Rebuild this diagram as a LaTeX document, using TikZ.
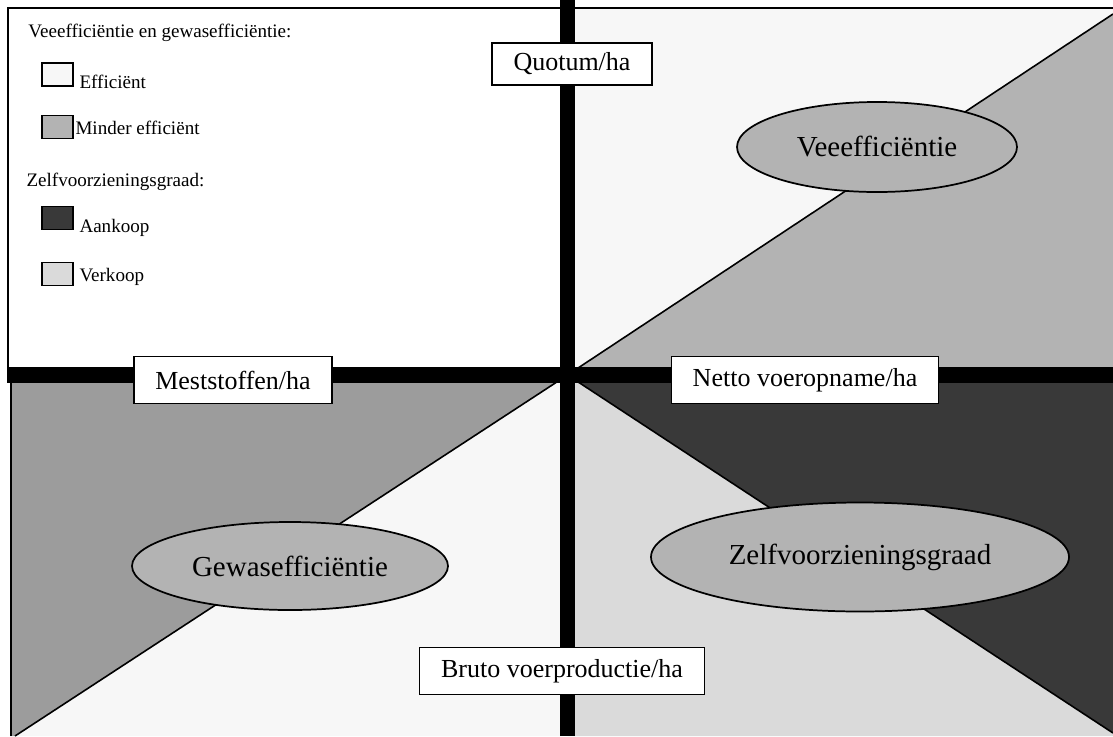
\documentclass[tikz,border=0pt]{standalone}
\usepackage{fontspec}
\setmainfont{Liberation Serif}
\usetikzlibrary{shapes.geometric}

\definecolor{fillLight}{RGB}{247,247,247}
\definecolor{fillMid}{RGB}{179,179,179}
\definecolor{fillField}{RGB}{156,156,156}
\definecolor{fillBuy}{RGB}{57,57,57}
\definecolor{fillSell}{RGB}{218,218,218}

\tikzset{every picture/.style={line width=0.75pt}}
\tikzset{
  axislabel/.style={draw, fill=white, line width=1.1pt, inner xsep=16pt, minimum height=35pt, font=\fontsize{19.5}{23}\selectfont},
  effellipse/.style={ellipse, draw, fill=fillMid, line width=1.3pt, inner sep=0pt, font=\fontsize{21.75}{26}\selectfont},
  legendbox/.style={draw, line width=1.1pt, minimum width=23pt, minimum height=17pt, inner sep=0pt},
  legendtext/.style={anchor=west, inner sep=0pt, font=\fontsize{14.3}{17}\selectfont}
}

\begin{document}
\begin{tikzpicture}[x=0.75pt,y=0.75pt,yscale=-1,xscale=1]
\useasboundingbox (0,0) rectangle (1113,736);

\coordinate (mid) at (567.5,375);
\coordinate (trEnd) at (1113,14);
\coordinate (brEnd) at (1113,733);
\coordinate (blEnd) at (15,736);

%Shape: quadrant top right
\fill [fillLight] (mid) -- (567.5,8) -- (1113,8) -- (trEnd) -- cycle ;
\fill [fillMid] (mid) -- (trEnd) -- (1113,375) -- cycle ;
%Shape: quadrant bottom left
\fill [fillField] (mid) -- (10,375) -- (10,736) -- (blEnd) -- cycle ;
\fill [fillLight] (mid) -- (blEnd) -- (567.5,736) -- cycle ;
%Shape: quadrant bottom right
\fill [fillBuy] (mid) -- (1113,375) -- (brEnd) -- cycle ;
\fill [fillSell] (mid) -- (brEnd) -- (1113,736) -- (567.5,736) -- cycle ;

%Straight Lines: diagonals
\draw [line width=1.2pt] (mid) -- (trEnd) ;
\draw [line width=1.2pt] (mid) -- (brEnd) ;
\draw [line width=1.2pt] (mid) -- (blEnd) ;

%Straight Lines: frame
\draw [line width=1.5pt] (8,375) -- (8,8) -- (1113,8) ;
\draw [line width=1.5pt] (10.5,375) -- (10.5,736) ;

%Shape: axes
\fill [black] (7,367) rectangle (1113,383) ;
\fill [black] (560,0) rectangle (575,736) ;

%Shape: Ellipses
\node [effellipse, minimum width=210pt, minimum height=67.5pt] (vee) at (877,147) {Veeefficiëntie};
\node [effellipse, minimum width=237pt, minimum height=66pt] (gewas) at (290,566) {Gewasefficiëntie};
\node [effellipse, minimum width=313.5pt, minimum height=81.75pt] (zelf) at (860,557) {\raisebox{4pt}{Zelfvoorzieningsgraad}};

% Text Node: axis labels
\node [axislabel, minimum height=31.5pt] (quotum) at (572,64) {Quotum/ha};
\node [axislabel] (mest) at (233,380) {Meststoffen/ha};
\node [axislabel] (netto) at (805,380) {Netto voeropname/ha};
\node [axislabel] (bruto) at (562,671) {Bruto voerproductie/ha};

% Text Node: legend
\node [legendtext] (legTitle) at (28,33) {Veeefficiëntie en gewasefficiëntie:};
\node [legendbox, fill=fillLight] (boxEff) at (57.5,74.5) {};
\node [legendtext] (txtEff) at (79,82) {Efficiënt};
\node [legendbox, fill=fillMid] (boxMinder) at (57.5,127) {};
\node [legendtext] (txtMinder) at (75,128) {Minder efficiënt};
\node [legendtext] (legZelf) at (26,182) {Zelfvoorzieningsgraad:};
\node [legendbox, fill=fillBuy] (boxBuy) at (57.5,218) {};
\node [legendtext] (txtBuy) at (79,228) {Aankoop};
\node [legendbox, fill=fillSell] (boxSell) at (57.5,274) {};
\node [legendtext] (txtSell) at (79,277) {Verkoop};

\end{tikzpicture}
\end{document}
